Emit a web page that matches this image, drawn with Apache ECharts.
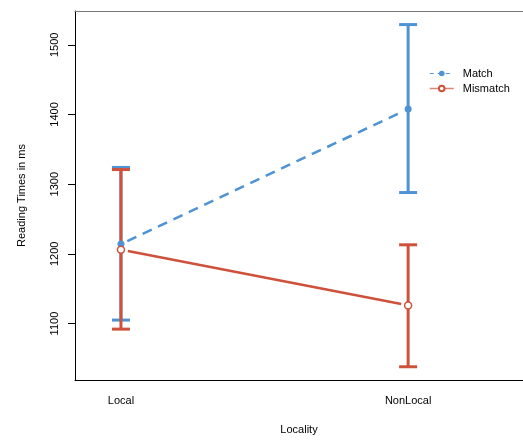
<!DOCTYPE html>
<html>
<head>
<meta charset="utf-8">
<script src="https://cdn.jsdelivr.net/npm/echarts@6/dist/echarts.min.js"></script>
<style>
html,body{margin:0;padding:0;background:#fff;}
#chart{width:523px;height:440px;}
</style>
</head>
<body>
<div id="chart"></div>
<script>
const categories = ['Local', 'NonLocal'];
const seriesNames = ['Match', 'Mismatch'];
const matchMean = [1214, 1408];
const matchLower = [1105, 1288];
const matchUpper = [1324, 1529];
const mismatchMean = [1206, 1126];
const mismatchLower = [1092, 1038];
const mismatchUpper = [1321, 1213];
const yTicks = [1100, 1200, 1300, 1400, 1500];

const BLUE = '#4E93D3';
const RED = '#CD513B';
const FONT = 'Liberation Sans, Arial, Helvetica, sans-serif';

const xPos = categories.map((c, i) => i + 1);

function errData(lower, upper) {
  return xPos.map((x, i) => [x, lower[i], upper[i]]);
}
function pointData(mean) {
  return xPos.map((x, i) => [x, mean[i]]);
}
function segData(mean) {
  return [[xPos[0], mean[0], xPos[1], mean[1]]];
}

function errRender(color) {
  return function (params, api) {
    const lo = api.coord([api.value(0), api.value(1)]);
    const hi = api.coord([api.value(0), api.value(2)]);
    const cap = 9;
    const style = { stroke: color, lineWidth: 3, fill: null };
    return {
      type: 'group',
      children: [
        { type: 'line', shape: { x1: lo[0], y1: lo[1], x2: hi[0], y2: hi[1] }, style: style },
        { type: 'line', shape: { x1: lo[0] - cap, y1: lo[1], x2: lo[0] + cap, y2: lo[1] }, style: style },
        { type: 'line', shape: { x1: hi[0] - cap, y1: hi[1], x2: hi[0] + cap, y2: hi[1] }, style: style }
      ]
    };
  };
}

function segRender(color, dash) {
  return function (params, api) {
    const a = api.coord([api.value(0), api.value(1)]);
    const b = api.coord([api.value(2), api.value(3)]);
    const dx = b[0] - a[0], dy = b[1] - a[1];
    const len = Math.sqrt(dx * dx + dy * dy);
    const g = 7;
    const ux = dx / len, uy = dy / len;
    return {
      type: 'line',
      shape: { x1: a[0] + ux * g, y1: a[1] + uy * g, x2: b[0] - ux * g, y2: b[1] - uy * g },
      style: { stroke: color, lineWidth: 2.5, lineDash: dash, fill: null }
    };
  };
}

const chart = echarts.init(document.getElementById('chart'), null, { renderer: 'canvas' });
chart.setOption({
  animation: false,
  backgroundColor: '#fff',
  textStyle: { fontFamily: FONT },
  grid: { left: 75, right: 0, top: 11, bottom: 58 },
  legend: {
    orient: 'vertical',
    left: 424,
    top: 63,
    itemWidth: 24,
    itemHeight: 7,
    itemGap: 4,
    textStyle: { fontFamily: FONT, fontSize: 11, color: '#000', padding: [0, 0, 0, 4] },
    data: [
      { name: seriesNames[0], lineStyle: { width: 1, opacity: 1, type: [4, 4], color: BLUE } },
      { name: seriesNames[1], lineStyle: { width: 1.5, opacity: 0.7, type: 'solid', color: RED } }
    ]
  },
  xAxis: [{
    type: 'value',
    min: 0.84,
    max: 2.4,
    position: 'bottom',
    splitLine: { show: false },
    axisTick: { show: false },
    axisLine: { show: true, lineStyle: { color: '#000', width: 1 } },
    axisLabel: {
      customValues: xPos,
      formatter: v => categories[Math.round(v) - 1] || '',
      fontFamily: FONT, fontSize: 11, color: '#000', margin: 15
    },
    name: 'Locality',
    nameLocation: 'middle',
    nameGap: 44,
    nameTextStyle: { fontFamily: FONT, fontSize: 11, color: '#000' }
  }, {
    type: 'value',
    min: 0.84,
    max: 2.4,
    position: 'top',
    splitLine: { show: false },
    axisTick: { show: false },
    axisLabel: { show: false },
    axisLine: { show: true, lineStyle: { color: '#777', width: 1 } }
  }],
  yAxis: {
    type: 'value',
    min: 1019,
    max: 1548.5,
    splitLine: { show: false },
    axisLine: { show: true, lineStyle: { color: '#000', width: 1 } },
    axisTick: { show: true, customValues: yTicks, length: 7, lineStyle: { color: '#000' } },
    axisLabel: {
      customValues: yTicks,
      rotate: 90,
      formatter: v => String(v),
      fontFamily: FONT, fontSize: 11, color: '#000', margin: 15
    },
    name: 'Reading Times in ms',
    nameLocation: 'middle',
    nameRotate: 90,
    nameGap: 48,
    nameTextStyle: { fontFamily: FONT, fontSize: 11, color: '#000' }
  },
  series: [
    { type: 'custom', name: 'err-match', data: errData(matchLower, matchUpper), renderItem: errRender(BLUE), z: 1, silent: true },
    { type: 'custom', name: 'err-mismatch', data: errData(mismatchLower, mismatchUpper), renderItem: errRender(RED), z: 2, silent: true },
    { type: 'custom', name: 'seg-match', data: segData(matchMean), renderItem: segRender(BLUE, [10, 7]), z: 3, silent: true },
    { type: 'custom', name: 'seg-mismatch', data: segData(mismatchMean), renderItem: segRender(RED, null), z: 3, silent: true },
    {
      type: 'line', name: seriesNames[0], data: pointData(matchMean), z: 5,
      symbol: 'circle', symbolSize: 7,
      itemStyle: { color: BLUE, borderWidth: 0 },
      lineStyle: { opacity: 0 }
    },
    {
      type: 'line', name: seriesNames[1], data: pointData(mismatchMean), z: 5,
      symbol: 'circle', symbolSize: 7,
      itemStyle: { color: '#fff', borderColor: RED, borderWidth: 1.5 },
      lineStyle: { opacity: 0 }
    }
  ]
});
</script>
</body>
</html>
